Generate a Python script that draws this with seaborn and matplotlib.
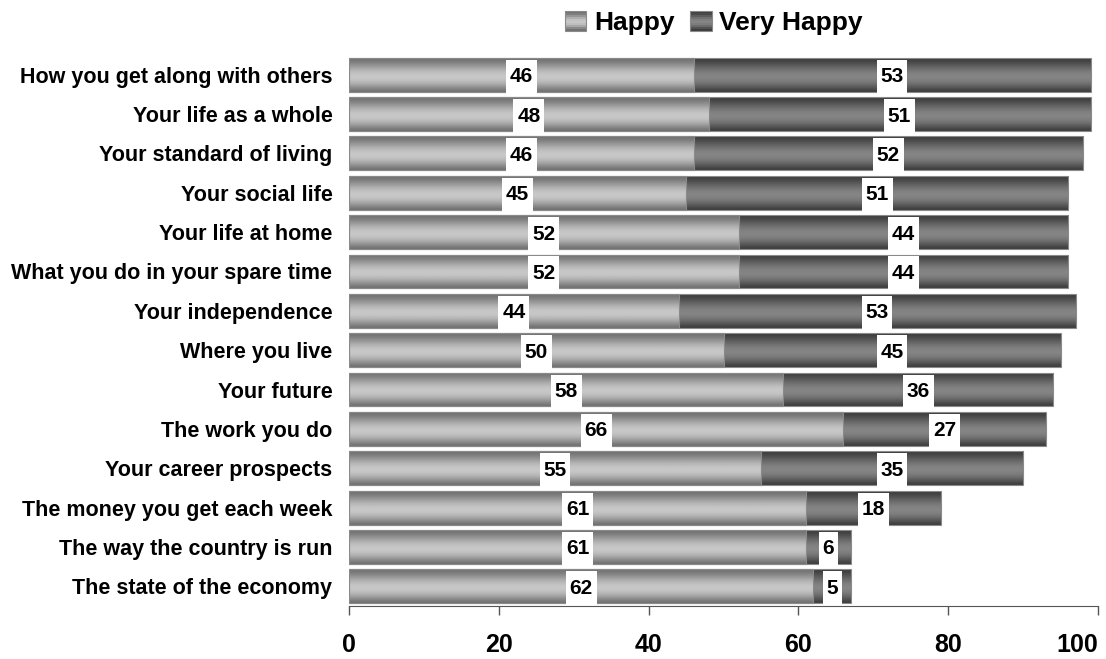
import numpy as np
import pandas as pd
import matplotlib
matplotlib.use("Agg")
import matplotlib.pyplot as plt
from matplotlib.patches import Patch, Rectangle
from matplotlib.path import Path
from matplotlib.legend_handler import HandlerBase
import seaborn as sns

items = ["How you get along with others", "Your life as a whole",
         "Your standard of living", "Your social life", "Your life at home",
         "What you do in your spare time", "Your independence",
         "Where you live", "Your future", "The work you do",
         "Your career prospects", "The money you get each week",
         "The way the country is run", "The state of the economy"]
happy = [46, 48, 46, 45, 52, 52, 44, 50, 58, 66, 55, 61, 61, 62]
very_happy = [53, 51, 52, 51, 44, 44, 53, 45, 36, 27, 35, 18, 6, 5]

sns.set_style("white")
plt.rcParams["font.family"] = ["Liberation Sans", "DejaVu Sans"]
plt.rcParams["font.weight"] = "bold"
plt.rcParams["text.color"] = "black"
plt.rcParams["xtick.color"] = "black"
plt.rcParams["ytick.color"] = "black"

df = pd.DataFrame({"item": items, "Happy": happy, "Very Happy": very_happy})
df["total"] = df["Happy"] + df["Very Happy"]

fig = plt.figure(figsize=(11.06, 6.59), dpi=100)
ax = fig.add_axes([0.3156, 0.0804, 0.6772, 0.8361])

# totals first (dark), then happy on top of them
sns.barplot(data=df, x="total", y="item", orient="h", color="#606060",
            width=0.86, edgecolor="#8a8a8a", linewidth=0.8, ax=ax)
sns.barplot(data=df, x="Happy", y="item", orient="h", color="#a0a0a0",
            width=0.86, edgecolor="#8a8a8a", linewidth=0.8, ax=ax)

n = len(df)
vh_bars = ax.patches[:n]
h_bars = ax.patches[n:2 * n]


def profile(lo, hi, k=100):
    t = np.linspace(0, 1, k)
    return lo + (hi - lo) * np.sin(np.pi * t ** 1.15) ** 1.3


def shade(p, lo, hi):
    x0, y0 = p.get_x(), p.get_y()
    w, h = p.get_width(), p.get_height()
    g = profile(lo, hi)
    im = ax.imshow(g[:, None], cmap="gray", vmin=0, vmax=1, aspect="auto",
                   extent=(x0, x0 + w, y0 + h, y0), interpolation="bilinear",
                   zorder=1.5)
    im.set_clip_path(p)
    p.set_facecolor("none")
    p.set_zorder(2)


SHADES = {"Happy": (0.44, 0.78), "Very Happy": (0.24, 0.52)}

for p in vh_bars:
    shade(p, *SHADES["Very Happy"])
for p in h_bars:
    shade(p, *SHADES["Happy"])


def tallbox(x0, y0, width, height, mutation_size):
    px, py = 0.18 * mutation_size, 0.36 * mutation_size
    return Path([(x0 - px, y0 - py), (x0 + width + px, y0 - py),
                 (x0 + width + px, y0 + height + py),
                 (x0 - px, y0 + height + py), (x0 - px, y0 - py)],
                closed=True)


for i, (h, v) in enumerate(zip(happy, very_happy)):
    for xpos, val in [(h / 2, h), (h + v / 2, v)]:
        ax.text(xpos, i, str(val), ha="center", va="center_baseline",
                fontsize=15, fontweight="bold",
                bbox=dict(boxstyle=tallbox, fc="white", ec="none"),
                zorder=5)

ax.set_xlim(0, 100)
ax.set_ylim(n - 0.5, -0.5)
ax.set_xticks([0, 20, 40, 60, 80, 100])
ax.set_xlabel("")
ax.set_ylabel("")
for s in ["top", "right", "left"]:
    ax.spines[s].set_visible(False)
ax.spines["bottom"].set_color("#555555")
ax.spines["bottom"].set_zorder(6)
ax.tick_params(axis="x", length=6.5, width=1, color="#555555", pad=13,
               labelsize=18, bottom=True)
ax.tick_params(axis="y", length=0, pad=12, labelsize=15.5)
for lbl in ax.get_xticklabels() + ax.get_yticklabels():
    lbl.set_fontweight("bold")
# keep the last tick label inside the figure
ax.get_xticklabels()[-1].set_horizontalalignment("right")


class GradHandler(HandlerBase):
    def create_artists(self, legend, orig_handle, xdescent, ydescent,
                       width, height, fontsize, trans):
        lo, hi = SHADES[orig_handle.get_label()]
        g = profile(lo, hi, 10)
        arts = []
        for j, val in enumerate(g):
            arts.append(Rectangle((-xdescent, -ydescent + height * (1 - (j + 1) / len(g))),
                                  width, height / len(g), fc=str(val), ec="none",
                                  transform=trans))
        arts.append(Rectangle((-xdescent, -ydescent), width, height, fc="none",
                              ec="#8a8a8a", lw=0.8, transform=trans))
        return arts


handles = [Patch(label="Happy"), Patch(label="Very Happy")]
fig.legend(handles, ["Happy", "Very Happy"], loc="center",
           bbox_to_anchor=(0.6456, 0.965), ncol=2, frameon=False,
           prop={"size": 19, "weight": "bold"}, handlelength=0.8,
           handleheight=0.8, handletextpad=0.3, columnspacing=0.6,
           handler_map={Patch: GradHandler()})

fig.savefig("out.png", dpi=100)
